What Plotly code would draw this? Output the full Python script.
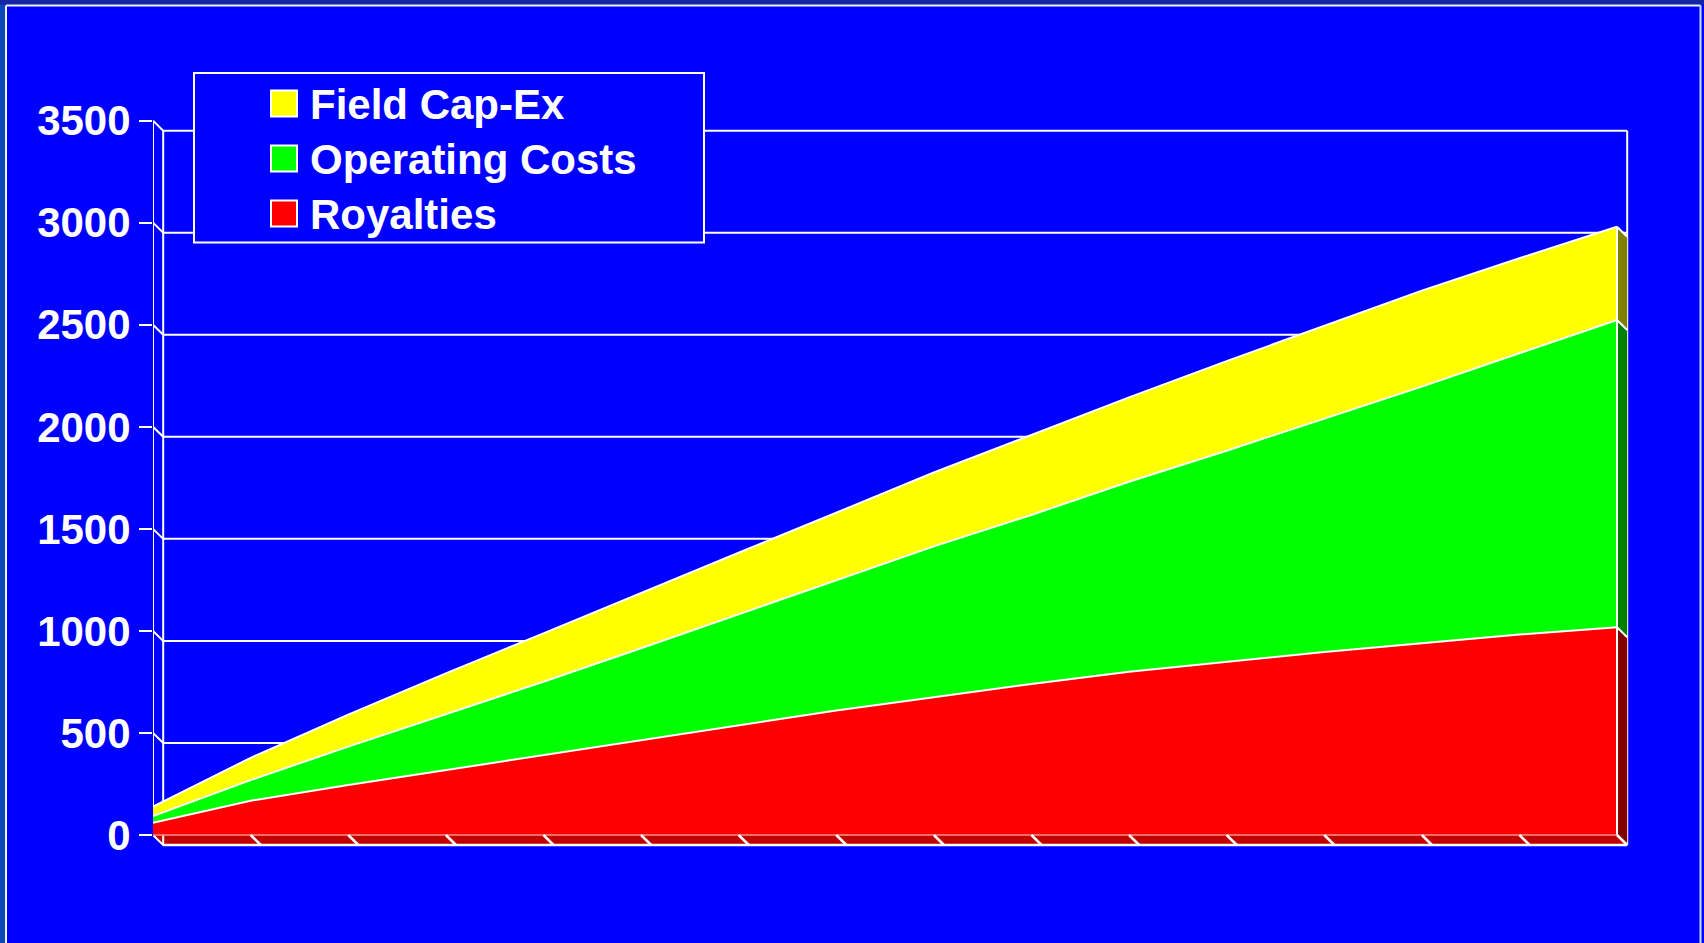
import plotly.graph_objects as go

# ---- data -------------------------------------------------------------
periods = list(range(16))
royalties = [60, 168, 245, 318, 392, 465, 538, 610, 675, 740, 800, 850, 897, 940, 982, 1018]
operating_costs = [33, 101, 188, 273, 359, 450, 543, 636, 739, 828, 931, 1033, 1144, 1257, 1378, 1505]
field_capex = [46, 109, 157, 201, 237, 272, 302, 333, 362, 392, 413, 439, 453, 470, 466, 457]
y_ticks = [0, 500, 1000, 1500, 2000, 2500, 3000, 3500]

series_names = ["Royalties", "Operating Costs", "Field Cap-Ex"]
series_values = [royalties, operating_costs, field_capex]
face_colors = ["#FF0000", "#00FF00", "#FFFF00"]
side_colors = ["#800000", "#008000", "#808000"]

# ---- page geometry (pixels) --------------------------------------------
W, H = 1704, 943
PLOT_L, PLOT_R, PLOT_T, PLOT_B = 153, 1640, 112, 852
X_STEP = 97.6          # pixels per period
ZERO_Y = 835           # pixel row of value 0 on the front plane
Y_SCALE = 0.2041       # pixels per unit value

x_range = [0, (PLOT_R - PLOT_L) / X_STEP]
y_range = [(ZERO_Y - PLOT_B) / Y_SCALE, (ZERO_Y - PLOT_T) / Y_SCALE]

# depth of the pseudo-3D extrusion, in data units
DX = 10.2 / X_STEP
DY = -10.0 / Y_SCALE

last = periods[-1]
WHITE = "#FFFFFF"
BG = "#0000FF"

fig = go.Figure()


def add_lines(xs, ys, color=WHITE, width=2):
    fig.add_trace(go.Scatter(x=xs, y=ys, mode="lines", line=dict(color=color, width=width),
                             hoverinfo="skip", showlegend=False))


def add_poly(xs, ys, color):
    fig.add_trace(go.Scatter(x=xs, y=ys, mode="lines", fill="toself", fillcolor=color,
                             line=dict(width=0, color=color), hoverinfo="skip", showlegend=False))


# floor slab under the areas
add_poly([0, last, last + DX, DX, 0], [0, 0, DY, DY, 0], "#C00000")

# back-wall gridlines with their diagonal connectors to the front ticks
gx, gy = [], []
for v in y_ticks:
    gx += [0, DX, last + DX, None]
    gy += [v, v + DY, v + DY, None]
add_lines(gx, gy)

# wall edges: front axis line and the two back verticals
add_lines([0, 0, None, DX, DX, None, last + DX, last + DX],
          [0, y_ticks[-1], None, DY, y_ticks[-1] + DY, None, DY, y_ticks[-1] + DY])

# stacked areas
for name, vals, col in zip(series_names, series_values, face_colors):
    fig.add_trace(go.Scatter(x=periods, y=vals, name=name, mode="lines", stackgroup="costs",
                             fillcolor=col, line=dict(color=WHITE, width=2),
                             showlegend=False))

# right-hand side faces of the extruded areas
cum = 0
tops = []
for vals, scol in zip(series_values, side_colors):
    base = cum
    cum += vals[-1]
    tops.append(cum)
    add_poly([last, last, last + DX, last + DX, last],
             [base, cum, cum + DY, base + DY, base], scol)

# edges of the side faces and the front right edge
ex, ey = [last, last, None], [0, cum, None]
for t in tops:
    ex += [last, last + DX, None]
    ey += [t, t + DY, None]
add_lines(ex, ey)

# front edge of the floor and its period ticks
add_lines([0, last], [0, 0], color="#FF8C8C", width=1.5)
tx, ty = [], []
for k in periods[1:]:
    tx += [k, k + DX, None]
    ty += [0, DY, None]
tx += [DX, last + DX]
ty += [DY, DY]
add_lines(tx, ty, width=2.5)


# ---- frame and boxed key ------------------------------------------------
def px(x):
    return x / W


def py(y):
    return 1 - y / H


shapes = []
annotations = []

# outer frame of the slide
shapes.append(dict(type="rect", xref="paper", yref="paper", x0=0, x1=1, y0=py(4.5), y1=1,
                   fillcolor="#1426A0", line=dict(width=0), layer="below"))
shapes.append(dict(type="rect", xref="paper", yref="paper", x0=0, x1=px(5), y0=0, y1=py(4.5),
                   fillcolor="#0A46B4", line=dict(width=0), layer="below"))
shapes.append(dict(type="line", xref="paper", yref="paper", x0=px(6), x1=px(1700.5), y0=py(5.5), y1=py(5.5),
                   line=dict(color="#E8F4FF", width=2)))
shapes.append(dict(type="line", xref="paper", yref="paper", x0=px(6), x1=px(6), y0=0, y1=py(5.5),
                   line=dict(color="#E8F4FF", width=2)))
shapes.append(dict(type="line", xref="paper", yref="paper", x0=px(1700.5), x1=px(1700.5), y0=0, y1=py(5.5),
                   line=dict(color="#C8E0FF", width=2)))

LEG_L, LEG_R, LEG_T, LEG_B = 194, 704, 73, 242.5
shapes.append(dict(type="rect", xref="paper", yref="paper", x0=px(LEG_L), x1=px(LEG_R),
                   y0=py(LEG_B), y1=py(LEG_T), fillcolor=BG, line=dict(color=WHITE, width=2),
                   layer="above"))
row_y = [103.5, 158.5, 213.5]
legend_order = [2, 1, 0]
for ry, idx in zip(row_y, legend_order):
    shapes.append(dict(type="rect", xref="paper", yref="paper", x0=px(271), x1=px(297),
                       y0=py(ry + 13), y1=py(ry - 13), fillcolor=face_colors[idx],
                       line=dict(color=WHITE, width=2), layer="above"))
    annotations.append(dict(xref="paper", yref="paper", x=px(308), y=py(ry + 1), xanchor="left",
                            yanchor="middle", showarrow=False, text=series_names[idx],
                            font=dict(family="Liberation Sans, Arial, sans-serif", size=42,
                                      color=WHITE, weight="bold")))

fig.update_layout(
    template="none",
    width=W, height=H, autosize=False,
    margin=dict(l=0, r=0, t=0, b=0, pad=0),
    paper_bgcolor=BG, plot_bgcolor=BG,
    showlegend=False,
    shapes=shapes, annotations=annotations,
    xaxis=dict(domain=[px(PLOT_L), px(PLOT_R)], range=x_range, showgrid=False, zeroline=False,
               showline=False, showticklabels=False, ticks="", fixedrange=True, automargin=False),
    yaxis=dict(domain=[py(PLOT_B), py(PLOT_T)], range=y_range, showgrid=False, zeroline=False,
               showline=False, tickmode="array", tickvals=y_ticks,
               ticktext=[str(v) for v in y_ticks], ticks="outside", ticklen=13,
               tickwidth=2, tickcolor=WHITE, ticklabelstandoff=0, automargin=False,
               tickfont=dict(family="Liberation Sans, Arial, sans-serif", size=42,
                             color=WHITE, weight="bold"), fixedrange=True),
)

fig.write_html("out.html")
